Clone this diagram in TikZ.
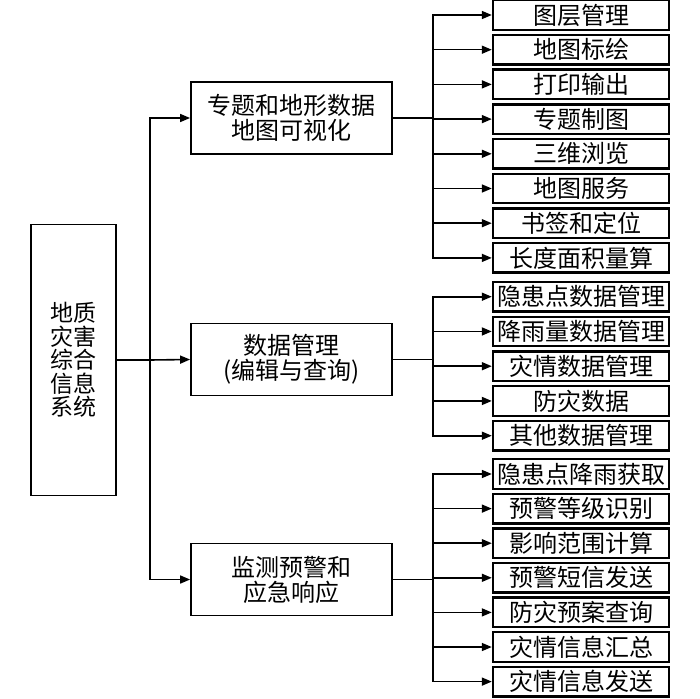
\documentclass[tikz,border=0pt]{standalone}
\usepackage{fontspec}
\newfontfamily\cjk{Noto Sans CJK SC}
\usetikzlibrary{arrows.meta}
\begin{document}
\begin{tikzpicture}[x=1pt,y=-1pt,
  box/.style={draw=black,line width=1.8pt,inner sep=0pt,align=center,font=\cjk\fontsize{24}{25}\selectfont},
  rootbox/.style={box,minimum width=85pt,minimum height=271pt,font=\cjk\fontsize{23}{23.5}\selectfont},
  midbox/.style={box,minimum width=201pt,minimum height=72pt},
  leafbox/.style={box,line width=2.4pt,minimum width=176pt,minimum height=29.5pt},
  arr/.style={line width=1.6pt,-{Triangle[length=10pt,width=8pt]}},
  ln/.style={line width=1.6pt}]
\useasboundingbox (0,0) rectangle (700,698);
\node[rootbox] (root) at (73.5,360) {地质\\灾害\\综合\\信息\\系统};
\node[midbox] (m1) at (291.5,118) {专题和地形数据\\地图可视化};
\node[midbox] (m2) at (291.5,359.5) {数据管理\\(编辑与查询)};
\node[midbox] (m3) at (291.5,579.5) {监测预警和\\应急响应};
\coordinate (t) at (150,360);
\draw[ln] (root.east) -- (t);
\draw[arr] (t) |- (m1.west);
\draw[arr] (t) -- (m2.west);
\draw[arr] (t) |- (m3.west);
% group 1
\foreach \txt [count=\i from 0] in {图层管理,地图标绘,打印输出,专题制图,三维浏览,地图服务,书签和定位,长度面积量算}{
  \node[leafbox] (a\i) at (581,15+34.7*\i) {\txt};
  \draw[arr] (m1.east) -- ++(40,0) |- (a\i.west);
}
% group 2
\foreach \txt [count=\i from 0] in {隐患点数据管理,降雨量数据管理,灾情数据管理,防灾数据,其他数据管理}{
  \node[leafbox] (b\i) at (581,296.7+34.75*\i) {\txt};
  \draw[arr] (m2.east) -- ++(40,0) |- (b\i.west);
}
% group 3
\foreach \txt [count=\i from 0] in {隐患点降雨获取,预警等级识别,影响范围计算,预警短信发送,防灾预案查询,灾情信息汇总,灾情信息发送}{
  \node[leafbox] (c\i) at (581,474+34.6*\i) {\txt};
  \draw[arr] (m3.east) -- ++(40,0) |- (c\i.west);
}
\end{tikzpicture}
\end{document}
